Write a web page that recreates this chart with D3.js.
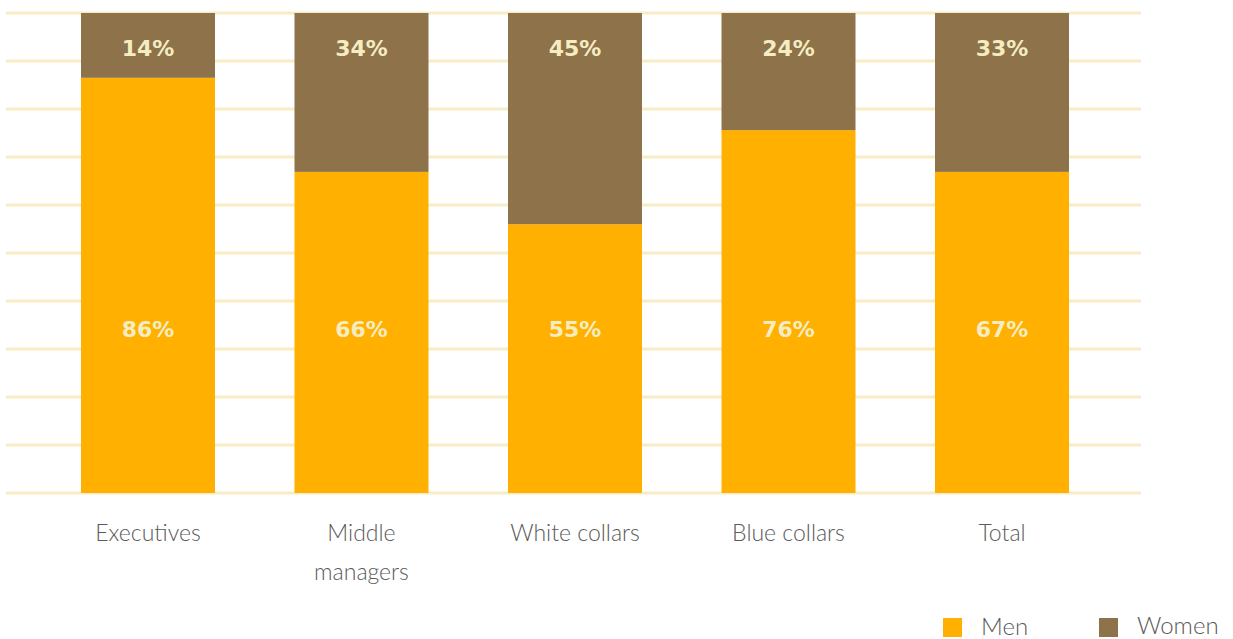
<!DOCTYPE html>
<html>
<head>
<meta charset="utf-8">
<script src="https://cdn.jsdelivr.net/npm/d3@7"></script>
<style>
  html, body { margin: 0; padding: 0; background: #ffffff; }
  svg { display: block; }
</style>
</head>
<body>
<svg id="chart" width="1233" height="639"></svg>
<script>
const categories = ["Executives", "Middle managers", "White collars", "Blue collars", "Total"];
const categoryLines = [["Executives"], ["Middle", "managers"], ["White collars"], ["Blue collars"], ["Total"]];
const menValues = [86.5, 66.9, 56.0, 75.6, 66.9];
const womenValues = [13.5, 33.1, 44.0, 24.4, 33.1];
const menLabels = ["86%", "66%", "55%", "76%", "67%"];
const womenLabels = ["14%", "34%", "45%", "24%", "33%"];
const gridTicks = [0, 10, 20, 30, 40, 50, 60, 70, 80, 90, 100];
const seriesNames = ["Men", "Women"];

const colors = { Men: "#FFB000", Women: "#8D724A" };
const gridColor = "#F6EDC6";
const valueColor = "#F5ECC2";
const textColor = "#5a5a5a";

const svg = d3.select("#chart");

const x = d3.scaleBand().domain(categories).range([81, 1069]).paddingInner(0.3724).paddingOuter(0);
const y = d3.scaleLinear().domain([0, 100]).range([493, 13]);

// gridlines
svg.append("g").selectAll("line").data(gridTicks).join("line")
  .attr("x1", 6).attr("x2", 1141)
  .attr("y1", d => y(d)).attr("y2", d => y(d))
  .attr("stroke", gridColor).attr("stroke-width", 3);

const data = categories.map((c, i) => ({ cat: c, men: menValues[i], women: womenValues[i], ml: menLabels[i], wl: womenLabels[i], lines: categoryLines[i] }));

// men bars
svg.append("g").selectAll("rect").data(data).join("rect")
  .attr("x", d => x(d.cat)).attr("width", x.bandwidth())
  .attr("y", d => y(d.men)).attr("height", d => y(0) - y(d.men))
  .attr("fill", colors.Men);

// women bars
svg.append("g").selectAll("rect").data(data).join("rect")
  .attr("x", d => x(d.cat)).attr("width", x.bandwidth())
  .attr("y", d => y(d.men + d.women)).attr("height", d => y(d.men) - y(d.men + d.women))
  .attr("fill", colors.Women);

const valFont = "'DejaVu Sans', sans-serif";
// women labels
svg.append("g").selectAll("text").data(data).join("text")
  .attr("x", d => x(d.cat) + x.bandwidth() / 2)
  .attr("y", 48).attr("dy", "0.36em")
  .attr("text-anchor", "middle")
  .style("font-family", valFont).style("font-weight", 700).style("font-size", "22px")
  .attr("fill", valueColor)
  .text(d => d.wl);

// men labels
svg.append("g").selectAll("text").data(data).join("text")
  .attr("x", d => x(d.cat) + x.bandwidth() / 2)
  .attr("y", 329).attr("dy", "0.36em")
  .attr("text-anchor", "middle")
  .style("font-family", valFont).style("font-weight", 700).style("font-size", "22px")
  .attr("fill", valueColor)
  .text(d => d.ml);

// category labels
const catG = svg.append("g").selectAll("text").data(data).join("text")
  .attr("text-anchor", "middle")
  .style("font-family", "'Lato', sans-serif").style("font-weight", 300).style("font-size", "23px")
  .attr("fill", textColor);
catG.selectAll("tspan").data(d => d.lines.map(l => ({ l, cx: x(d.cat) + x.bandwidth() / 2 }))).join("tspan")
  .attr("x", d => d.cx)
  .attr("y", (d, i) => 533 + i * 39)
  .attr("dy", "0.36em")
  .text(d => d.l);

// legend
const legendX = [943, 1099];
const legend = svg.append("g").selectAll("g").data(seriesNames).join("g");
legend.append("rect")
  .attr("x", (d, i) => legendX[i]).attr("y", 618)
  .attr("width", 19).attr("height", 19)
  .attr("fill", d => colors[d]);
legend.append("text")
  .attr("x", (d, i) => legendX[i] + 38)
  .attr("y", (d, i) => i === 0 ? 626 : 625).attr("dy", "0.36em")
  .style("font-family", "'Lato', sans-serif").style("font-weight", 300).style("font-size", "24px")
  .attr("fill", textColor)
  .text(d => d);
</script>
</body>
</html>
